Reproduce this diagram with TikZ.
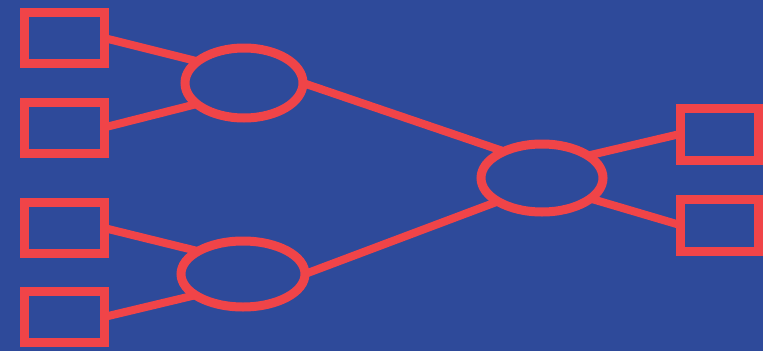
\documentclass[tikz,border=0pt]{standalone}
\usetikzlibrary{shapes.geometric}
\definecolor{bgblue}{RGB}{46,74,154}
\definecolor{linered}{RGB}{240,68,72}
\begin{document}
\begin{tikzpicture}[x=1pt,y=-1pt,
  sqbox/.style={draw=linered,line width=9pt,rectangle,inner sep=0pt,outer sep=0pt},
  lsq/.style={sqbox,minimum width=80pt,minimum height=51pt},
  rsq/.style={sqbox,minimum width=78pt,minimum height=52pt},
  hub/.style={draw=linered,line width=9pt,ellipse,inner sep=0pt,outer sep=0pt},
  link/.style={draw=linered,line width=8pt}]
\fill[bgblue] (0,0) rectangle (763,351);
\useasboundingbox (0,0) rectangle (763,351);
\node[lsq] (s1) at (64,38) {};
\node[lsq] (s2) at (64,127.5) {};
\node[lsq] (s3) at (64,228) {};
\node[lsq] (s4) at (64,317) {};
\node[rsq] (r1) at (719,134) {};
\node[rsq] (r2) at (719,225) {};
\node[hub,minimum width=118pt,minimum height=70pt] (e1) at (244,83) {};
\node[hub,minimum width=124pt,minimum height=66pt] (e2) at (243,274) {};
\node[hub,minimum width=122pt,minimum height=68pt] (e3) at (542,178) {};
\draw[link] (s1.east) -- (e1.155);
\draw[link] (s2.east) -- (e1.204);
\draw[link] (s3.east) -- (e2.153);
\draw[link] (s4.east) -- (e2.204);
\draw[link] (e1.east) -- (e3.145);
\draw[link] (e2.east) -- (e3.208);
\draw[link] (e3.26) -- (r1.west);
\draw[link] (e3.337) -- (r2.west);
\end{tikzpicture}
\end{document}
